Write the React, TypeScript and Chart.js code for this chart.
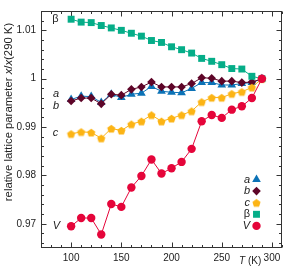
import React, { useEffect, useRef } from 'react';
import { Chart, registerables } from 'chart.js';
import { drawPoint } from 'chart.js/helpers';

Chart.register(...registerables);

// ---- data ----
const temps = [100, 110, 120, 130, 140, 150, 160, 170, 180, 190, 200, 210, 220, 230, 240, 250, 260, 270, 280, 290];
const aVals = [0.9957, 0.9964, 0.9963, 0.9951, 0.9968, 0.9961, 0.9968, 0.9970, 0.9984, 0.9974, 0.9972, 0.9971, 0.9980, 0.9992, 0.9992, 0.9987, 0.9987, 0.9990, 0.9992, 1.0];
const bVals = [0.9954, 0.9960, 0.9960, 0.9948, 0.9968, 0.9966, 0.9978, 0.9983, 0.9993, 0.9983, 0.9983, 0.9983, 0.9990, 1.0002, 1.0001, 0.9995, 0.9995, 0.9992, 0.9993, 1.0];
const cVals = [0.9886, 0.9890, 0.9889, 0.9877, 0.9897, 0.9893, 0.9906, 0.9912, 0.9925, 0.9912, 0.9918, 0.9925, 0.9933, 0.9952, 0.9961, 0.9961, 0.9969, 0.9973, 0.9982, 1.0];
const betaVals = [1.0123, 1.0117, 1.0116, 1.0110, 1.0105, 1.0100, 1.0094, 1.0088, 1.0079, 1.0075, 1.0066, 1.0060, 1.0053, 1.0042, 1.0036, 1.0029, 1.0021, 1.0020, 1.0005, 1.0];
const vVals = [0.9695, 0.9712, 0.9712, 0.9678, 0.9741, 0.9735, 0.9775, 0.9799, 0.9833, 0.9804, 0.9815, 0.9828, 0.9855, 0.9912, 0.9925, 0.9919, 0.9936, 0.9943, 0.9960, 1.0];

const seriesNames = ['a', 'b', 'c', 'β', 'V'];
const xTickValues = [100, 150, 200, 250, 300];
const xTickLabels = ['100', '150', '200', '250', '300'];
const yTickValues = [0.97, 0.98, 0.99, 1.0, 1.01];
const yTickLabels = ['0.97', '0.98', '0.99', '1', '1.01'];
const xMinorTicks = [70, 80, 90, 110, 120, 130, 140, 160, 170, 180, 190, 210, 220, 230, 240, 260, 270, 280, 290, 310];
const yMinorTicks = [0.966, 0.968, 0.972, 0.974, 0.976, 0.978, 0.982, 0.984, 0.986, 0.988, 0.992, 0.994, 0.996, 0.998, 1.002, 1.004, 1.006, 1.008, 1.012, 1.014];

const COLORS = {
  a: '#0b72b6',
  b: '#5e0528',
  c: '#fcb415',
  beta: '#05ad88',
  V: '#e5053a',
};

const FONT = '"Liberation Sans", Arial, sans-serif';

function makePentagon(color: string, r: number): HTMLCanvasElement {
  const s = Math.ceil(r * 2 + 2);
  const c = document.createElement('canvas');
  c.width = s;
  c.height = s;
  const ctx = c.getContext('2d')!;
  ctx.fillStyle = color;
  ctx.beginPath();
  for (let i = 0; i < 5; i++) {
    const ang = -Math.PI / 2 + (i * 2 * Math.PI) / 5;
    ctx.lineTo(s / 2 + r * Math.cos(ang), s / 2 + 0.5 + r * Math.sin(ang));
  }
  ctx.closePath();
  ctx.fill();
  return c;
}

function pts(vals: number[]) {
  return temps.map((t, i) => ({ x: t, y: vals[i] }));
}

export default function App() {
  const ref = useRef<HTMLCanvasElement | null>(null);

  useEffect(() => {
    document.body.style.margin = '0';
    const canvas = ref.current!;
    const pent = makePentagon(COLORS.c, 4.3);

    const markers: any[] = [
      { name: 'a', style: 'triangle', r: 5, color: COLORS.a },
      { name: 'b', style: 'rectRot', r: 4.3, color: COLORS.b },
      { name: 'c', style: pent, r: 4.3, color: COLORS.c },
      { name: 'β', style: 'rect', r: 4.9, color: COLORS.beta },
      { name: 'V', style: 'circle', r: 4.2, color: COLORS.V },
    ];

    const ds = (label: string, vals: number[], m: any, order: number) => ({
      label,
      data: pts(vals),
      borderColor: m.color,
      backgroundColor: m.color,
      pointBackgroundColor: m.color,
      pointBorderColor: m.color,
      pointBorderWidth: 0,
      borderWidth: 1,
      pointStyle: m.style,
      pointRadius: m.r,
      pointHoverRadius: m.r,
      tension: 0,
      order,
    });

    const decor = {
      id: 'decor',
      beforeDatasetsDraw(chart: any) {
        const { ctx, chartArea } = chart;
        const { left, right, top, bottom } = chartArea;
        const xs = chart.scales.x;
        const ys = chart.scales.y;
        ctx.save();
        ctx.strokeStyle = '#333';
        ctx.lineWidth = 1;
        const L = Math.round(left) + 0.5;
        const R = Math.round(right) - 0.5;
        const T = Math.round(top) + 0.5;
        const B = Math.round(bottom) - 0.5;
        ctx.beginPath();
        const tick = (x1: number, y1: number, x2: number, y2: number) => {
          ctx.moveTo(x1, y1);
          ctx.lineTo(x2, y2);
        };
        xTickValues.forEach((v) => {
          const x = Math.round(xs.getPixelForValue(v)) + 0.5;
          tick(x, B, x, B - 5);
          tick(x, T, x, T + 5);
        });
        xMinorTicks.forEach((v) => {
          const x = Math.round(xs.getPixelForValue(v)) + 0.5;
          tick(x, B, x, B - 2.5);
          tick(x, T, x, T + 2.5);
        });
        yTickValues.forEach((v) => {
          const y = Math.round(ys.getPixelForValue(v)) + 0.5;
          tick(L, y, L + 5, y);
          tick(R, y, R - 5, y);
        });
        yMinorTicks.forEach((v) => {
          const y = Math.round(ys.getPixelForValue(v)) + 0.5;
          tick(L, y, L + 2.5, y);
          tick(R, y, R - 2.5, y);
        });
        ctx.stroke();
        ctx.strokeRect(L, T, R - L, B - T);
        ctx.restore();
      },
      afterDatasetsDraw(chart: any) {
        const { ctx } = chart;
        ctx.save();
        ctx.fillStyle = '#222';
        ctx.textBaseline = 'middle';

        // y-axis title with italic x
        const segs: [string, boolean][] = [
          ['relative lattice parameter ', false],
          ['x', true],
          ['/', false],
          ['x', true],
          ['(290 K)', false],
        ];
        const fs = 11.3;
        const fN = `${fs}px ${FONT}`;
        const fI = `italic ${fs}px ${FONT}`;
        let total = 0;
        segs.forEach(([t, it]) => {
          ctx.font = it ? fI : fN;
          total += ctx.measureText(t).width;
        });
        ctx.save();
        ctx.translate(9, 112);
        ctx.rotate(-Math.PI / 2);
        ctx.textAlign = 'left';
        let cx = -total / 2;
        segs.forEach(([t, it]) => {
          ctx.font = it ? fI : fN;
          ctx.fillText(t, cx, 0);
          cx += ctx.measureText(t).width;
        });
        ctx.restore();

        // x-axis title "T (K)"
        ctx.textAlign = 'left';
        ctx.font = `italic 10px ${FONT}`;
        ctx.fillText('T', 239, 261.5);
        const tw = ctx.measureText('T').width;
        ctx.font = `10px ${FONT}`;
        ctx.fillText(' (K)', 239 + tw, 261.5);

        // in-plot labels
        ctx.textAlign = 'center';
        ctx.font = `11px ${FONT}`;
        ctx.fillText('β', 55.5, 18.5);
        ctx.font = `italic 11px ${FONT}`;
        ctx.fillText('a', 56, 94);
        ctx.fillText('b', 56, 106);
        ctx.fillText('c', 55.5, 133);
        ctx.fillText('V', 56.5, 225.5);

        // legend
        markers.forEach((m, i) => {
          const y = 179.5 + i * 11.6;
          ctx.textAlign = 'right';
          ctx.fillStyle = '#222';
          ctx.font = (m.name === 'β' ? '' : 'italic ') + `11px ${FONT}`;
          ctx.fillText(m.name, 250, y);
          ctx.fillStyle = m.color;
          ctx.strokeStyle = m.color;
          ctx.lineWidth = 0;
          drawPoint(ctx, { pointStyle: m.style, radius: m.r, rotation: 0, borderWidth: 0 }, 256.5, y);
        });
        ctx.restore();
      },
    };

    const chart = new Chart(canvas, {
      type: 'line',
      data: {
        datasets: [
          ds(seriesNames[4], vVals, markers[4], 0),
          ds(seriesNames[2], cVals, markers[2], 1),
          ds(seriesNames[3], betaVals, markers[3], 2),
          ds(seriesNames[1], bVals, markers[1], 3),
          ds(seriesNames[0], aVals, markers[0], 4),
        ],
      },
      options: {
        animation: false,
        responsive: false,
        maintainAspectRatio: false,
        devicePixelRatio: 1,
        layout: { padding: { top: 9, right: 3, left: 0, bottom: 0 } },
        plugins: {
          legend: { display: false },
          tooltip: { enabled: false },
        },
        scales: {
          x: {
            type: 'linear',
            min: 70,
            max: 310,
            grid: { display: false, drawTicks: false },
            border: { display: false },
            afterBuildTicks: (s: any) => {
              s.ticks = xTickValues.map((v) => ({ value: v }));
            },
            afterFit: (s: any) => {
              s.height = 21;
            },
            ticks: {
              autoSkip: false,
              maxRotation: 0,
              padding: 4,
              color: '#222',
              font: { family: FONT, size: 10 },
              callback: (v: any) => xTickLabels[xTickValues.indexOf(Number(v))] ?? '',
            },
          },
          y: {
            type: 'linear',
            min: 0.965,
            max: 1.014,
            grid: { display: false, drawTicks: false },
            border: { display: false },
            afterBuildTicks: (s: any) => {
              s.ticks = yTickValues.map((v) => ({ value: v }));
            },
            afterFit: (s: any) => {
              s.width = 41;
            },
            ticks: {
              autoSkip: false,
              padding: 5,
              color: '#222',
              font: { family: FONT, size: 10 },
              callback: (v: any) => {
                const idx = yTickValues.findIndex((t) => Math.abs(t - Number(v)) < 1e-9);
                return idx >= 0 ? yTickLabels[idx] : '';
              },
            },
          },
        },
      },
      plugins: [decor],
    });

    return () => chart.destroy();
  }, []);

  return (
    <div style={{ position: 'absolute', left: 0, top: 0, width: 287, height: 269 }}>
      <canvas ref={ref} width={287} height={269} style={{ width: 287, height: 269, display: 'block' }} />
    </div>
  );
}
